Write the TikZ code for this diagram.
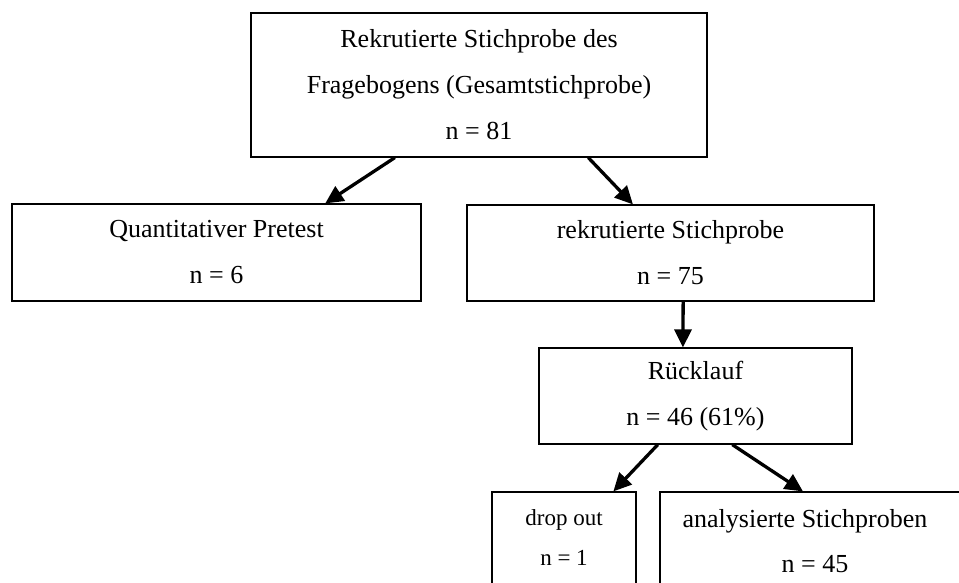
\documentclass[tikz,border=0pt]{standalone}
\usepackage{fontspec}
\setmainfont{Liberation Serif}
\usetikzlibrary{arrows.meta,calc}
\begin{document}
\begin{tikzpicture}[x=1pt,y=-1pt,
  box/.style={draw=black,line width=1.2pt,rectangle,inner sep=0pt,align=center,
    font=\fontsize{26}{46}\selectfont},
  txt/.style={anchor=base,inner sep=0pt,font=\fontsize{26}{46}\selectfont},
  smalltxt/.style={anchor=base,inner sep=0pt,font=\fontsize{23}{40}\selectfont},
  arr/.style={line width=3.3pt,-{Triangle[length=18pt,width=17pt]}}]
\useasboundingbox (0,0) rectangle (959,583);
% boxes
\node[box,minimum width=456pt,minimum height=144pt] (top) at (479,85)
  {Rekrutierte Stichprobe des\\Fragebogens (Gesamtstichprobe)\\n = 81};
\node[box,minimum width=409pt,minimum height=97pt] (pre) at (216.5,252.5)
  {Quantitativer Pretest\\n = 6};
\node[box,minimum width=407pt,minimum height=96pt] (rek) at (670.5,253)
  {rekrutierte Stichprobe\\n = 75};
\node[box,minimum width=313pt,minimum height=96pt] (ruck) at (695.5,396)
  {Rücklauf\\n = 46 (61\%)};
\node[box,minimum width=144pt,minimum height=120pt] (drop) at (564,552) {};
\node[box,minimum width=320pt,minimum height=120pt] (ana) at (820,552) {};
% texts of the lower boxes
\node[smalltxt] (drop1) at (564,525) {drop out};
\node[smalltxt] (drop2) at (564,565) {n = 1};
\node[txt] (ana1) at (805,527) {analysierte Stichproben};
\node[txt] (ana2) at (815,572) {n = 45};
% connectors
\draw[arr] ($(top.south west)!0.316!(top.south east)$) -- ($(pre.north west)!0.765!(pre.north east)$);
\draw[arr] ($(top.south west)!0.739!(top.south east)$) -- ($(rek.north west)!0.408!(rek.north east)$);
\draw[arr] ($(rek.south west)!0.531!(rek.south east)$) -- ($(ruck.north west)!0.46!(ruck.north east)$);
\draw[arr] ($(ruck.south west)!0.380!(ruck.south east)$) -- ($(drop.north west)!0.84!(drop.north east)$);
\draw[arr] ($(ruck.south west)!0.617!(ruck.south east)$) -- ($(ana.north west)!0.447!(ana.north east)$);
\end{tikzpicture}
\end{document}
